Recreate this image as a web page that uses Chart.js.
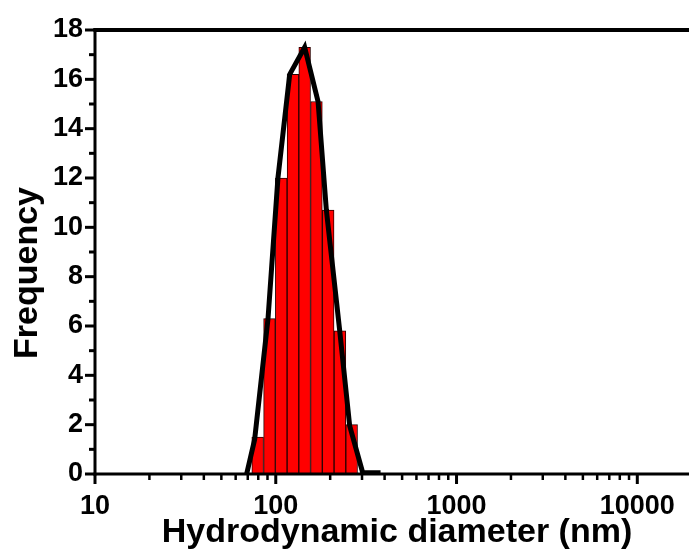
<!DOCTYPE html>
<html>
<head>
<meta charset="utf-8">
<script src="https://cdn.jsdelivr.net/npm/chart.js@4.4.1/dist/chart.umd.min.js"></script>
<style>
  html, body { margin: 0; padding: 0; background: #fff; }
  #wrap { width: 689px; height: 554px; }
</style>
</head>
<body>
<div id="wrap"><canvas id="dls"></canvas></div>
<script>
// histogram bins (bin centres in nm) and counts
const diameters = [79.4, 92.3, 107.2, 124.5, 144.5, 167.9, 195.0, 226.5, 263.0];
const frequency = [1.5, 6.3, 12.0, 16.2, 17.3, 15.1, 10.7, 5.8, 2.0];

// fitted curve
const fitDiameter = [69.0, 76.4, 90.6, 102.8, 119.4, 144.5, 171.4, 190.5, 225.9, 256.4, 302.7, 380.0];
const fitFrequency = [0, 1.4, 6.3, 12.0, 16.2, 17.3, 15.1, 10.7, 5.8, 1.95, 0.05, 0.05];

const xTickValues = [10, 100, 1000, 10000];
const xTickLabels = ['10', '100', '1000', '10000'];
const yTickValues = [0, 2, 4, 6, 8, 10, 12, 14, 16, 18];

const X_MIN = 10, X_MAX = 19320;
const FONT = '"Liberation Sans", Arial, sans-serif';

// frame, tick marks and axis titles
const framePlugin = {
    id: 'frame',
    afterDatasetsDraw(chart) {
        const { ctx, chartArea: a, scales } = chart;
        const xs = scales.x, ys = scales.y;
        ctx.save();
        ctx.strokeStyle = '#000';
        ctx.lineCap = 'butt';

        // x ticks: major at decades, minor at 2..9
        ctx.lineWidth = 3;
        xTickValues.forEach(v => {
            const px = xs.getPixelForValue(v);
            ctx.beginPath(); ctx.moveTo(px, a.bottom); ctx.lineTo(px, a.bottom + 10); ctx.stroke();
        });
        ctx.lineWidth = 2.5;
        xTickValues.forEach(d => {
            for (let m = 2; m <= 9; m++) {
                const v = d * m;
                if (v > X_MAX) continue;
                const px = xs.getPixelForValue(v);
                ctx.beginPath(); ctx.moveTo(px, a.bottom); ctx.lineTo(px, a.bottom + 6); ctx.stroke();
            }
        });

        // y ticks: major every 2, minor in between
        ctx.lineWidth = 3;
        yTickValues.forEach(v => {
            const py = ys.getPixelForValue(v);
            ctx.beginPath(); ctx.moveTo(a.left, py); ctx.lineTo(a.left - 10, py); ctx.stroke();
            if (v < 18) {
                const pm = ys.getPixelForValue(v + 1);
                ctx.beginPath(); ctx.moveTo(a.left, pm); ctx.lineTo(a.left - 6, pm); ctx.stroke();
            }
        });

        // axis lines
        ctx.lineWidth = 3;
        ctx.beginPath(); ctx.moveTo(a.left, a.top - 2); ctx.lineTo(a.left, a.bottom + 1.5); ctx.stroke();
        ctx.beginPath(); ctx.moveTo(a.left - 1.5, a.bottom); ctx.lineTo(a.right, a.bottom); ctx.stroke();
        ctx.lineWidth = 4;
        ctx.beginPath(); ctx.moveTo(a.left - 1.5, a.top); ctx.lineTo(a.right, a.top); ctx.stroke();

        // axis titles
        ctx.fillStyle = '#000';
        ctx.font = 'bold 34px ' + FONT;
        ctx.textAlign = 'center';
        ctx.textBaseline = 'alphabetic';
        ctx.fillText('Hydrodynamic diameter (nm)', 397, 542);
        ctx.translate(37, 273);
        ctx.rotate(-Math.PI / 2);
        ctx.fillText('Frequency', 0, 0);
        ctx.restore();
    }
};

new Chart(document.getElementById('dls'), {
    type: 'bar',
    data: {
        datasets: [
            {
                type: 'line',
                label: 'Fit',
                data: fitDiameter.map((x, i) => ({ x: x, y: fitFrequency[i] })),
                borderColor: '#000',
                borderWidth: 5,
                pointRadius: 0,
                tension: 0,
                fill: false,
                order: 0
            },
            {
                label: 'Frequency',
                data: diameters.map((x, i) => ({ x: x, y: frequency[i] })),
                backgroundColor: '#ff0000',
                borderColor: '#2a0000',
                borderWidth: 1,
                barPercentage: 1,
                categoryPercentage: 1,
                order: 1
            }
        ]
    },
    options: {
        responsive: true,
        maintainAspectRatio: false,
        animation: false,
        layout: { padding: { top: 30, right: 0, left: 0, bottom: 0 } },
        plugins: { legend: { display: false }, tooltip: { enabled: false } },
        scales: {
            x: {
                type: 'logarithmic',
                min: X_MIN,
                max: X_MAX,
                offset: false,
                grid: { display: false, drawTicks: false, offset: false },
                border: { display: false },
                afterBuildTicks: s => { s.ticks = xTickValues.map(v => ({ value: v })); },
                afterFit: s => { s.height = 80; s.paddingRight = 0; s.paddingLeft = 0; },
                ticks: {
                    autoSkip: false,
                    maxRotation: 0,
                    padding: 16,
                    color: '#000',
                    font: { family: FONT, size: 27, weight: 'bold' },
                    callback: v => xTickLabels[xTickValues.indexOf(v)]
                }
            },
            y: {
                min: 0,
                max: 18,
                grid: { display: false, drawTicks: false },
                border: { display: false },
                afterBuildTicks: s => { s.ticks = yTickValues.map(v => ({ value: v })); },
                afterFit: s => { s.width = 95; s.paddingTop = 0; s.paddingBottom = 0; },
                ticks: {
                    padding: 12,
                    color: '#000',
                    font: { family: FONT, size: 27, weight: 'bold' }
                }
            }
        }
    },
    plugins: [framePlugin]
});
</script>
</body>
</html>
